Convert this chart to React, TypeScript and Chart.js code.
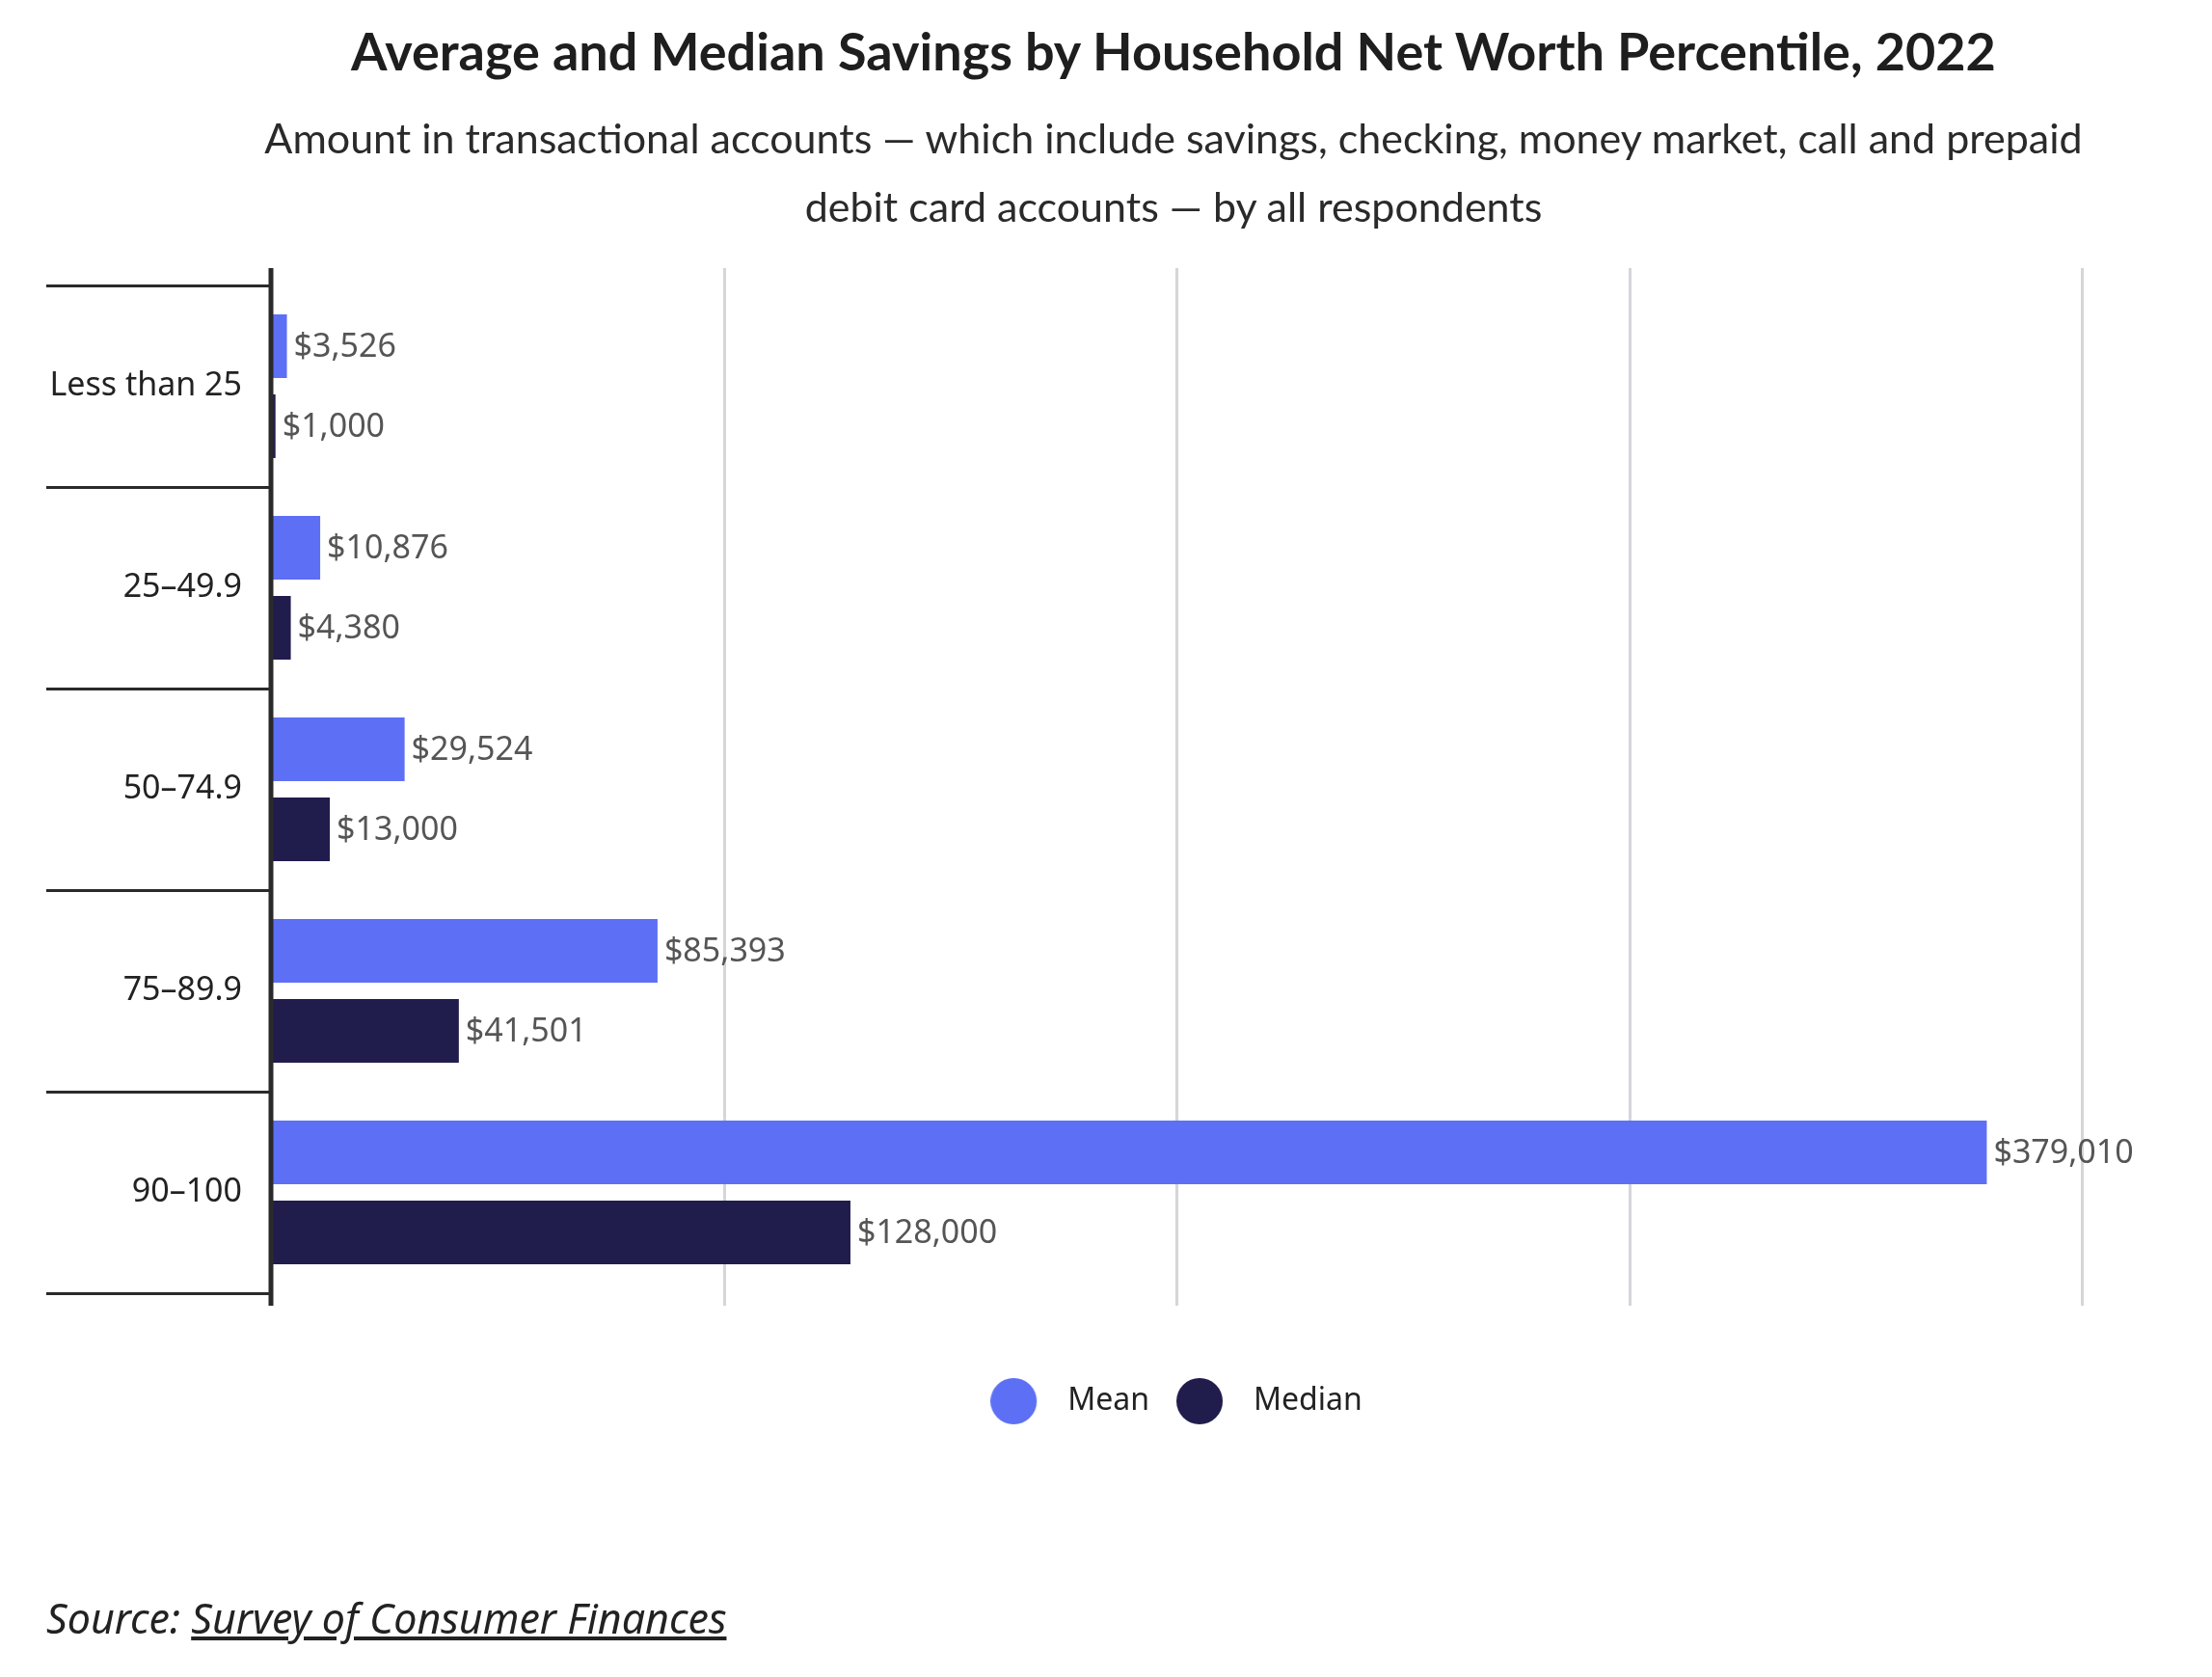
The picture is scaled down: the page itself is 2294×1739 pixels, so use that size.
import React, { useEffect, useRef } from 'react';
import { Chart, registerables } from 'chart.js';

Chart.register(...registerables);

const TITLE = 'Average and Median Savings by Household Net Worth Percentile, 2022';
const SUBTITLE_LINES = [
  'Amount in transactional accounts — which include savings, checking, money market, call and prepaid',
  'debit card accounts — by all respondents',
];
const categories = ['Less than 25', '25–49.9', '50–74.9', '75–89.9', '90–100'];
const meanValues = [3526, 10876, 29524, 85393, 379010];
const medianValues = [1000, 4380, 13000, 41501, 128000];
const seriesLabels = ['Mean', 'Median'];
const seriesColors = ['#5d6ff5', '#201c4c'];
const xMin = 0;
const xMax = 400000;
const xStep = 100000;

const FONT = '"Noto Sans", sans-serif';

function makeDot(color: string): HTMLCanvasElement {
  const c = document.createElement('canvas');
  c.width = 64;
  c.height = 48;
  const ctx = c.getContext('2d');
  if (ctx) {
    ctx.fillStyle = color;
    ctx.beginPath();
    ctx.arc(24, 24, 24, 0, Math.PI * 2);
    ctx.fill();
  }
  return c;
}

const fmt = (v: number) => '$' + v.toLocaleString('en-US');

const decorPlugin = {
  id: 'decor',
  beforeDatasetsDraw(chart: any) {
    const { ctx, chartArea, scales } = chart;
    const x = scales.x;
    const top = chartArea.top - 18;
    const bottom = chartArea.bottom + 13;
    ctx.save();
    ctx.strokeStyle = '#d5d5da';
    ctx.lineWidth = 3;
    x.ticks.forEach((t: any) => {
      if (t.value === xMin) return;
      const px = Math.round(x.getPixelForValue(t.value)) + 0.5;
      ctx.beginPath();
      ctx.moveTo(px, top);
      ctx.lineTo(px, bottom);
      ctx.stroke();
    });
    ctx.restore();
  },
  afterDatasetsDraw(chart: any) {
    const { ctx, chartArea, scales } = chart;
    const x = scales.x;
    const y = scales.y;
    const n = categories.length;
    const band = y.getPixelForValue(1) - y.getPixelForValue(0);
    const axisX = x.getPixelForValue(xMin);
    ctx.save();
    // category separators
    ctx.strokeStyle = '#2a2a2a';
    ctx.lineWidth = 3;
    for (let i = 0; i <= n; i++) {
      const yb = Math.round(y.getPixelForValue(0) + (i - 0.5) * band) + 0.5;
      ctx.beginPath();
      ctx.moveTo(48, yb);
      ctx.lineTo(axisX, yb);
      ctx.stroke();
    }
    // axis line
    ctx.lineWidth = 5;
    ctx.beginPath();
    ctx.moveTo(axisX, chartArea.top - 18);
    ctx.lineTo(axisX, chartArea.bottom + 13);
    ctx.stroke();
    // category labels
    ctx.fillStyle = '#222222';
    ctx.font = `34px ${FONT}`;
    ctx.textAlign = 'right';
    ctx.textBaseline = 'middle';
    categories.forEach((c, i) => {
      ctx.fillText(c, axisX - 30, y.getPixelForValue(i));
    });
    // value labels
    ctx.fillStyle = '#555555';
    ctx.font = `34px ${FONT}`;
    ctx.textAlign = 'left';
    chart.data.datasets.forEach((ds: any, di: number) => {
      const meta = chart.getDatasetMeta(di);
      meta.data.forEach((bar: any, j: number) => {
        ctx.fillText(fmt(ds.data[j]), bar.x + 7, bar.y + 1);
      });
    });
    ctx.restore();
  },
};

export default function App() {
  const canvasRef = useRef<HTMLCanvasElement | null>(null);

  useEffect(() => {
    const canvas = canvasRef.current;
    if (!canvas) return;
    const dots = seriesColors.map((c) => makeDot(c));
    const chart = new Chart(canvas, {
      type: 'bar',
      data: {
        labels: categories,
        datasets: [
          {
            label: seriesLabels[0],
            data: meanValues,
            backgroundColor: seriesColors[0],
            borderWidth: 0,
            categoryPercentage: 0.794,
            barPercentage: 0.795,
          },
          {
            label: seriesLabels[1],
            data: medianValues,
            backgroundColor: seriesColors[1],
            borderWidth: 0,
            categoryPercentage: 0.794,
            barPercentage: 0.795,
          },
        ],
      },
      plugins: [decorPlugin],
      options: {
        indexAxis: 'y',
        animation: false,
        responsive: false,
        maintainAspectRatio: false,
        layout: { padding: { left: 281, right: 135, top: 296, bottom: 260 } },
        scales: {
          x: {
            type: 'linear',
            min: xMin,
            max: xMax,
            display: true,
            ticks: { display: false, stepSize: xStep },
            grid: { display: false },
            border: { display: false },
            afterFit: (s: any) => {
              s.height = 68;
            },
          },
          y: {
            type: 'category',
            display: false,
            offset: true,
          },
        },
        plugins: {
          title: { display: false },
          tooltip: { enabled: false },
          legend: {
            display: true,
            position: 'bottom',
            fullSize: false,
            align: 'center',
            labels: {
              usePointStyle: true,
              pointStyleWidth: 64,
              padding: 28,
              color: '#222222',
              font: { family: 'Noto Sans', size: 32 },
              generateLabels: (ch: any) =>
                ch.data.datasets.map((ds: any, i: number) => ({
                  text: ds.label,
                  fillStyle: ds.backgroundColor,
                  strokeStyle: ds.backgroundColor,
                  lineWidth: 0,
                  pointStyle: dots[i],
                  hidden: false,
                  datasetIndex: i,
                  fontColor: '#222222',
                })),
            },
          },
        },
      } as any,
    });
    return () => chart.destroy();
  }, []);

  return (
    <div
      style={{
        position: 'absolute',
        left: 0,
        top: 0,
        width: 2294,
        height: 1739,
        background: '#ffffff',
        overflow: 'hidden',
      }}
    >
      <canvas
        ref={canvasRef}
        width={2294}
        height={1739}
        style={{ position: 'absolute', left: 0, top: 0, width: 2294, height: 1739 }}
      />
      <div
        style={{
          position: 'absolute',
          left: 117,
          width: 2200,
          top: 18,
          height: 70,
          lineHeight: '70px',
          textAlign: 'center',
          fontFamily: 'Lato, sans-serif',
          fontWeight: 700,
          fontSize: 54,
          color: '#1e1e1e',
          whiteSpace: 'nowrap',
        }}
      >
        {TITLE}
      </div>
      <div
        style={{
          position: 'absolute',
          left: 117,
          width: 2200,
          top: 107,
          lineHeight: '71px',
          textAlign: 'center',
          fontFamily: 'Lato, sans-serif',
          fontWeight: 400,
          fontSize: 43,
          color: '#2a2a2a',
          whiteSpace: 'nowrap',
        }}
      >
        {SUBTITLE_LINES.map((l, i) => (
          <div key={i}>{l}</div>
        ))}
      </div>
      <div
        style={{
          position: 'absolute',
          left: 48,
          top: 1651,
          lineHeight: '54px',
          fontFamily: '"Noto Sans", sans-serif',
          fontStyle: 'italic',
          fontSize: 43,
          color: '#222222',
          whiteSpace: 'nowrap',
        }}
      >
        Source: <span style={{ textDecoration: 'underline' }}>Survey of Consumer Finances</span>
      </div>
    </div>
  );
}
